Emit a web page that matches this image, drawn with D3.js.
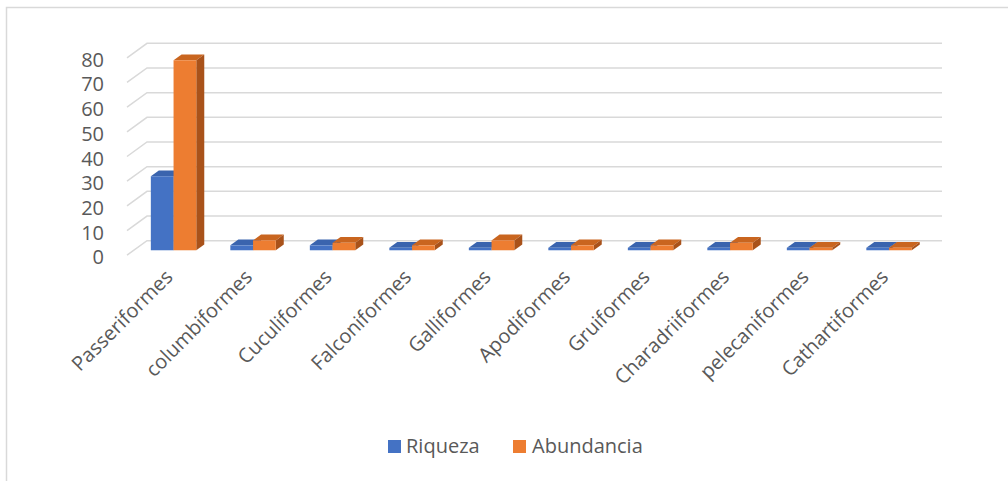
<!DOCTYPE html>
<html>
<head>
<meta charset="utf-8">
<script src="https://cdn.jsdelivr.net/npm/d3@7"></script>
<style>
  html, body { margin: 0; padding: 0; background: #fff; }
  svg { display: block; }
  text { font-family: "Open Sans", "Noto Sans", sans-serif; fill: #595959; }
</style>
</head>
<body>
<svg id="chart" width="1008" height="481"></svg>
<script>
// Bird orders and their richness / abundance counts
const categories = ["Passeriformes", "columbiformes", "Cuculiformes", "Falconiformes", "Galliformes",
                    "Apodiformes", "Gruiformes", "Charadriiformes", "pelecaniformes", "Cathartiformes"];
const riqueza    = [30, 2, 2, 1, 1, 1, 1, 1, 1, 1];
const abundancia = [77, 4, 3, 2, 4, 2, 2, 3, 1, 1];
const seriesNames = ["Riqueza", "Abundancia"];
const yTicks = [0, 10, 20, 30, 40, 50, 60, 70, 80];

const colors = {
  Riqueza:    { front: "#4472C4", top: "#3A64AE", side: "#2F5597" },
  Abundancia: { front: "#ED7D31", top: "#C9651F", side: "#A9521A" }
};

const svg = d3.select("#chart");

// Outer chart frame
svg.append("rect")
  .attr("x", 6.5).attr("y", 7.5).attr("width", 1010).attr("height", 480)
  .attr("fill", "none").attr("stroke", "#D9D9D9").attr("stroke-width", 1.5);

// Oblique 3D projection: depth vector from front plane to back wall
const depth = { dx: 20, dy: -14.5 };
const frontLeft = 127, frontRight = 922;
const frontZeroY = 255.2, frontTopY = 255.2 - 197.4;

const x = d3.scaleBand().domain(categories).range([frontLeft, frontRight]);
const y = d3.scaleLinear().domain([0, 80]).range([frontZeroY, frontTopY]);
const xs = d3.scaleBand().domain(seriesNames).range([0, x.bandwidth()]).paddingOuter(0.75).paddingInner(0);

// Gridlines: back wall horizontals plus slanted lines on the left wall
const grid = svg.append("g").attr("stroke", "#D9D9D9").attr("stroke-width", 1.5).attr("fill", "none");
yTicks.forEach(t => {
  const yf = y(t), yb = y(t) + depth.dy;
  grid.append("path")
    .attr("d", `M${frontLeft},${yf}L${frontLeft + depth.dx},${yb}L${frontRight + depth.dx},${yb}`);
});

// Y axis labels
svg.append("g").selectAll("text").data(yTicks).join("text")
  .attr("x", 104).attr("y", d => y(d) + 1.5)
  .attr("text-anchor", "end").attr("dominant-baseline", "central")
  .attr("font-size", 20).text(d => d);

// 3D bars: front face sits partway into the floor depth
const tFront = 0.34, tDepth = 0.4;
const ox = tFront * depth.dx, oy = tFront * depth.dy;
const bx = tDepth * depth.dx, by = tDepth * depth.dy;

const bars = svg.append("g");
categories.forEach((cat, i) => {
  const vals = { Riqueza: riqueza[i], Abundancia: abundancia[i] };
  seriesNames.forEach(s => {
    const x0 = x(cat) + ox + xs(s);
    const w = xs.bandwidth();
    const yb = y(0) + oy;
    const yt = y(vals[s]) + oy;
    const c = colors[s];
    const g = bars.append("g");
    // top face
    g.append("path")
      .attr("d", `M${x0},${yt}L${x0 + w},${yt}L${x0 + w + bx},${yt + by}L${x0 + bx},${yt + by}Z`)
      .attr("fill", c.top);
    // side face
    g.append("path")
      .attr("d", `M${x0 + w},${yt}L${x0 + w + bx},${yt + by}L${x0 + w + bx},${yb + by}L${x0 + w},${yb}Z`)
      .attr("fill", c.side);
    // front face
    g.append("rect")
      .attr("x", x0).attr("y", yt).attr("width", w).attr("height", Math.max(0, yb - yt))
      .attr("fill", c.front);
  });
});

// Category labels rotated -45°
svg.append("g").selectAll("text").data(categories).join("text")
  .attr("transform", d => `translate(${x(d) + x.bandwidth() / 2 + 2},${273}) rotate(-45)`)
  .attr("text-anchor", "end").attr("dominant-baseline", "central")
  .attr("font-size", 20).text(d => d);

// Legend
const legend = svg.append("g");
const legendItems = [
  { name: "Riqueza", sx: 388, tx: 406 },
  { name: "Abundancia", sx: 513, tx: 532 }
];
legendItems.forEach(it => {
  legend.append("rect").attr("x", it.sx).attr("y", 440).attr("width", 13).attr("height", 13)
    .attr("fill", colors[it.name].front);
  legend.append("text").attr("x", it.tx).attr("y", 453).attr("font-size", 20).text(it.name);
});
</script>
</body>
</html>
